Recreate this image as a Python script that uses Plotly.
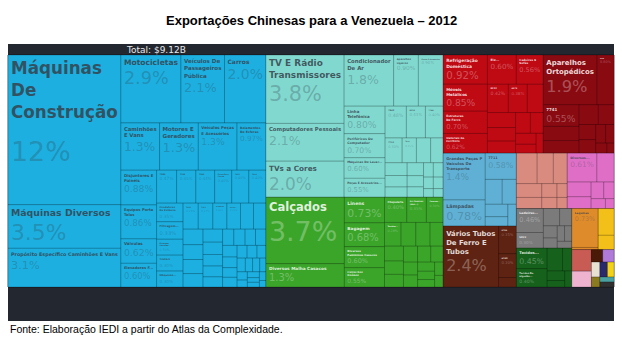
import math
import plotly.graph_objects as go

TITLE = "<b>Exportações Chinesas para a Venezuela – 2012</b>"
TOTAL_TEXT = "Total: $9.12B"
SOURCE = "Fonte: Elaboração IEDI a partir do Atlas da Complexidade."

# Values: share of total Chinese exports to Venezuela in 2012 (%)
maquinas_labels = ["Máquinas<br>De<br>Construção", "Máquinas Diversos", "Propósito Específico Caminhões E Vans",
                   "Motocicletas", "Veículos De<br>Passageiros<br>Pública", "Carros", "Caminhões<br>E Vans",
                   "Motores E<br>Geradores", "Veículos Peças<br>E Acessórios", "Rolamentos<br>De Esferas",
                   "Disjuntores E<br>Painéis", "Equipos Porta<br>Telas", "Válvulas", "Elevadores F...",
                   "7284", "7783", "7283", "Peças Para<br>Carros", "7452", "7416", "Condutores<br>De Potência",
                   "Filtragem...", "Diversos<br>Veículos...", "Trailers", "7431", "7422", "Fixadores", "Fornos...",
                   "Máquinas...",
                   "7493", "7449", "7441", "7239", "7248", "7169", "7138", "7436", "7415", "7432", "7439",
                   "7442", "7447", "7421", "7233", "7234", "7244", "7247", "7281", "7187", "7132", "7139",
                   "7149", "7163", "7161", "7821", "7832", "7852", "7853", "7868", "7861", "7219", "7212"]
maquinas_values = [12.0, 3.5, 3.1, 2.9, 2.1, 2.0, 1.3, 1.3, 1.3, 0.97, 0.88, 0.86, 0.62, 0.60,
                   0.47, 0.45, 0.44, 0.40, 0.40, 0.40, 0.35, 0.33, 0.30, 0.30, 0.28, 0.27, 0.26, 0.25, 0.30,
                   0.24, 0.23, 0.22, 0.21, 0.20, 0.19, 0.18, 0.17, 0.16, 0.15, 0.14, 0.13, 0.13, 0.12, 0.12,
                   0.12, 0.11, 0.10, 0.10, 0.09, 0.09, 0.08, 0.08, 0.07, 0.07, 0.06, 0.06, 0.05, 0.05, 0.04,
                   0.04, 0.04, 0.03]
maquinas_named = 29

eletronicos_labels = ["TV E Rádio<br>Transmissores", "Computadores Pessoais", "TVs a Cores", "Condicionador<br>De Ar",
                      "Aparelhos<br>Ligeiros", "Peças E Acessórios", "Linha<br>Telefônica", "Periféricos De<br>Computador",
                      "Máquinas De Lavar...", "Peças E Acessórios...", "7642", "8124", "7788", "7712", "7810",
                      "7638", "7611", "7643", "7649", "7599", "7525", "7763", "7731", "7721", "7751", "7757",
                      "7758", "7768", "7784"]
eletronicos_values = [3.8, 2.1, 2.0, 1.8, 0.90, 0.90, 0.80, 0.70, 0.60, 0.55, 0.48, 0.43, 0.40, 0.30, 0.25,
                      0.25, 0.22, 0.20, 0.18, 0.16, 0.15, 0.13, 0.12, 0.10, 0.10, 0.08, 0.08, 0.06, 0.06]
eletronicos_named = 15

texteis_labels = ["Calçados", "Diversos Malha Casacos", "Linens", "Bagagem", "Diversos<br>Femininos Casacos",
                  "Calças Dos<br>Homens", "Chapelaria", "As Camisas<br>(dos...)", "Casacos...", "Tecidos...",
                  "8451", "8459", "8452", "8442", "8439", "8431", "8423", "8414", "8462", "8463", "8465",
                  "8472", "8481", "8483", "8484", "6584"]
texteis_values = [3.7, 1.3, 0.73, 0.68, 0.60, 0.55, 0.40, 0.35, 0.30, 0.28,
                  0.25, 0.24, 0.22, 0.20, 0.18, 0.17, 0.16, 0.15, 0.14, 0.13, 0.12, 0.11, 0.10, 0.09, 0.08, 0.07]
texteis_named = 10

moveis_labels = ["Refrigeração<br>Doméstica", "Móveis<br>Metálicos", "Estruturas<br>De Ferro", "Materiais De<br>Escritório",
                 "Ele...", "Cadeiras E<br>Sofás", "8212", "6973",
                 "6911", "6954", "6994", "6996", "6997", "8211", "8219", "6978", "6992"]
moveis_values = [0.92, 0.85, 0.70, 0.62, 0.60, 0.56, 0.42, 0.38,
                 0.32, 0.30, 0.27, 0.24, 0.22, 0.19, 0.16, 0.13, 0.10]
moveis_named = 8

instrumentos_labels = ["Aparelhos<br>Ortopédicos", "5136", "7741",
                       "8720", "8743", "8744", "8745", "8748", "8749", "8811", "8842", "8851", "8996"]
instrumentos_values = [1.9, 0.60, 0.55, 0.36, 0.32, 0.27, 0.22, 0.18, 0.16, 0.13, 0.11, 0.08, 0.05]
instrumentos_named = 3

transporte_labels = ["Grandes Peças P<br>Veículos De<br>Transporte", "Lâmpadas", "7711", "8132", "8134", "8138", "8135", "8137"]
transporte_values = [1.4, 0.78, 0.58, 0.30, 0.25, 0.20, 0.15, 0.13]
transporte_named = 3

metais_labels = ["Vários Tubos<br>De Ferro E<br>Tubos", "6746", "6749", "6794"]
metais_values = [2.4, 0.35, 0.30, 0.12]
metais_named = 3

plasticos_labels = ["5822", "5831", "5821", "5829", "5833", "5839", "5838", "5836", "5837"]
plasticos_values = [0.45, 0.35, 0.30, 0.25, 0.20, 0.15, 0.12, 0.10, 0.08]
plasticos_named = 0

quimicos_labels = ["Diversos...", "5541", "5542", "5543", "5530", "5514", "5513", "5512"]
quimicos_values = [0.61, 0.35, 0.25, 0.20, 0.15, 0.12, 0.10, 0.06]
quimicos_named = 1

borracha_labels = ["Ladeiras...", "5823", "6251", "6252", "6253", "6254", "6259", "6281", "6282"]
borracha_values = [0.46, 0.30, 0.20, 0.15, 0.12, 0.10, 0.08, 0.08, 0.07]
borracha_named = 2

tecidos_labels = ["Tecidos...", "Tecidos De<br>algodão...", "6522", "6521", "6531", "6532", "6535"]
tecidos_values = [0.45, 0.40, 0.25, 0.15, 0.12, 0.08, 0.08]
tecidos_named = 2

legumes_labels = ["Legumes", "0545"]
legumes_values = [0.73, 0.04]
legumes_named = 1

frutas_labels = ["0579", "0577"]
frutas_values = [0.30, 0.16]
frutas_named = 0

outros_groups = ["Cerâmica", "Vidro", "Couro", "Papel", "Pedras", "Navios", "Tabaco", "Óleos", "Peixes", "Minerais"]
outros_values = [0.30, 0.22, 0.10, 0.10, 0.09, 0.08, 0.07, 0.06, 0.05, 0.05]

# group name, colour, labels, values, named count, dark text
groups = [
    ("Máquinas", "#1cafe0", maquinas_labels, maquinas_values, maquinas_named, True),
    ("Eletrônicos", "#80d8cf", eletronicos_labels, eletronicos_values, eletronicos_named, True),
    ("Têxteis", "#3ba52a", texteis_labels, texteis_values, texteis_named, False),
    ("Móveis", "#bf0a14", moveis_labels, moveis_values, moveis_named, False),
    ("Instrumentos", "#8a0a12", instrumentos_labels, instrumentos_values, instrumentos_named, False),
    ("Transporte", "#5fb0d4", transporte_labels, transporte_values, transporte_named, True),
    ("Metais", "#5e2312", metais_labels, metais_values, metais_named, False),
    ("Plásticos", "#d98b80", plasticos_labels, plasticos_values, plasticos_named, True),
    ("Químicos", "#df6fc6", quimicos_labels, quimicos_values, quimicos_named, True),
    ("Borracha", "#7b7b7b", borracha_labels, borracha_values, borracha_named, False),
    ("Tecidos", "#16621c", tecidos_labels, tecidos_values, tecidos_named, False),
    ("Legumes", "#de8b2b", legumes_labels, legumes_values, legumes_named, True),
    ("Frutas", "#f2c019", frutas_labels, frutas_values, frutas_named, True),
]
outros_colors = ["#c95b55", "#eeb3cf", "#4a1a08", "#b07ad8", "#e8e0d0", "#2a2a6a", "#f3d21a", "#8a7a20", "#4aa0a0", "#303030"]
for name, col, val in zip(outros_groups, outros_colors, outros_values):
    groups.append((name, col, [name + " "], [val], 0, True))

ids, labels, parents, values, colors, templates, sizes, lcolors, lwidths, fcolors = ([] for _ in range(10))
ids.append("root"); labels.append("Total"); parents.append(""); values.append(0)
colors.append("#23272f"); templates.append(""); sizes.append(10); lcolors.append("#23272f"); lwidths.append(0)
fcolors.append("rgba(0,0,0,0)")

for gname, gcol, glabels, gvals, gnamed, dark in groups:
    gid = "g_" + gname
    ids.append(gid); labels.append(gname); parents.append("root"); values.append(0)
    colors.append(gcol); templates.append(""); sizes.append(10)
    lcolors.append("rgba(20,20,30,0.6)"); lwidths.append(1); fcolors.append("rgba(0,0,0,0)")
    lab_col = "rgba(55,65,75,0.85)" if dark else "rgba(255,255,255,0.85)"
    pct_col = "rgba(55,65,75,0.35)" if dark else "rgba(255,255,255,0.35)"
    for i, (lab, v) in enumerate(zip(glabels, gvals)):
        ids.append(gid + "_" + lab); labels.append(lab); parents.append(gid); values.append(v)
        colors.append(gcol)
        lcolors.append("rgba(0,0,0,0.2)"); lwidths.append(1)
        fcolors.append(lab_col)
        fs = max(4.5, min(20.0, 6.0 * math.sqrt(v)))
        ps = max(6.0, min(32.0, 14.0 * math.sqrt(v)))
        if i < gnamed:
            templates.append(
                "<b>%{label}</b><br><br>"
                f"<span style='font-size:{ps / fs * 100:.0f}%;color:{pct_col}'>%{{percentRoot:.2p}}</span>")
        else:
            templates.append("")
        sizes.append(fs)

W, H = 622, 345
def px(x):
    return x / W
def py(y):
    return 1 - y / H

fig = go.Figure(go.Treemap(
    ids=ids, labels=labels, parents=parents, values=values,
    branchvalues="remainder", sort=True,
    marker=dict(colors=colors, line=dict(color=lcolors, width=lwidths), pad=dict(t=0, l=0, r=0, b=0)),
    tiling=dict(packing="squarify", squarifyratio=1.618034, pad=0),
    texttemplate=templates, textposition="top left",
    textfont=dict(family="DejaVu Sans", size=sizes, color=fcolors),
    pathbar=dict(visible=False), hoverinfo="skip",
    domain=dict(x=[px(8), px(614)], y=[py(287), py(55)]),
))

fig.update_layout(
    width=W, height=H, margin=dict(l=0, r=0, t=0, b=0),
    paper_bgcolor="white", showlegend=False,
    shapes=[dict(type="rect", xref="paper", yref="paper", x0=px(8), x1=px(614), y0=py(321), y1=py(44),
                 fillcolor="#23272f", line=dict(width=0), layer="below")],
    annotations=[
        dict(text=TITLE, xref="paper", yref="paper", x=px(311), y=py(20), showarrow=False,
             font=dict(family="Liberation Sans, Arial", size=13, color="black"), xanchor="center", yanchor="middle"),
        dict(text=TOTAL_TEXT, xref="paper", yref="paper", x=px(156), y=py(50), showarrow=False,
             font=dict(family="DejaVu Sans", size=9, color="#e8e8e8"), xanchor="center", yanchor="middle"),
        dict(text=SOURCE, xref="paper", yref="paper", x=px(8), y=py(329), showarrow=False,
             font=dict(family="Liberation Sans, Arial", size=10.5, color="black"), xanchor="left", yanchor="middle"),
    ],
)

fig.write_html("out.html")
